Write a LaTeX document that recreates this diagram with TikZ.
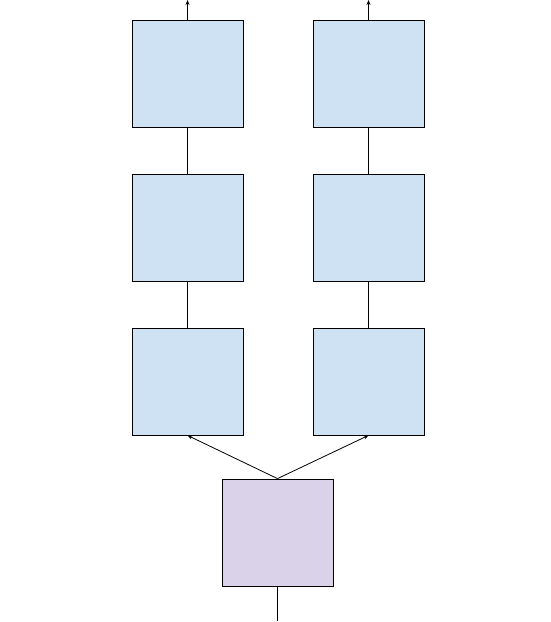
\documentclass[tikz,border=0pt]{standalone}
\usepackage{tikz}
\usetikzlibrary{arrows.meta, positioning}
\definecolor{cellblue}{HTML}{CFE2F3}
\definecolor{inputpurple}{HTML}{D9D2E9}

\begin{document}
\begin{tikzpicture}[>={Stealth[length=5pt,width=4pt]}, x=1pt, y=-1pt, line width=0.8pt,
  cell/.style={draw, fill=cellblue, minimum width=111pt, minimum height=107pt, inner sep=0pt},
  inputcell/.style={cell, fill=inputpurple}]
  \useasboundingbox (0, 0) rectangle (551, 622);

  % Input
  \node[inputcell] (in) at (277.5, 532.5) {};
  \coordinate (src) at (277.5, 621);
  \draw (src) -- (in.south);

  % Left column
  \node[cell] (l1) at (187.5, 381.5) {};
  \node[cell] (l2) at (187.5, 227.5) {};
  \node[cell] (l3) at (187.5, 73.5) {};
  \coordinate (lout) at (187.5, 0);

  % Right column
  \node[cell] (r1) at (368.5, 381.5) {};
  \node[cell] (r2) at (368.5, 227.5) {};
  \node[cell] (r3) at (368.5, 73.5) {};
  \coordinate (rout) at (368.5, 0);

  % Arrows
  \draw[->] (in.north) -- (l1.south);
  \draw[->] (in.north) -- (r1.south);
  \draw (l1) -- (l2);
  \draw (l2) -- (l3);
  \draw (r1) -- (r2);
  \draw (r2) -- (r3);
  \draw[->] (l3.north) -- (lout);
  \draw[->] (r3.north) -- (rout);
\end{tikzpicture}
\end{document}
